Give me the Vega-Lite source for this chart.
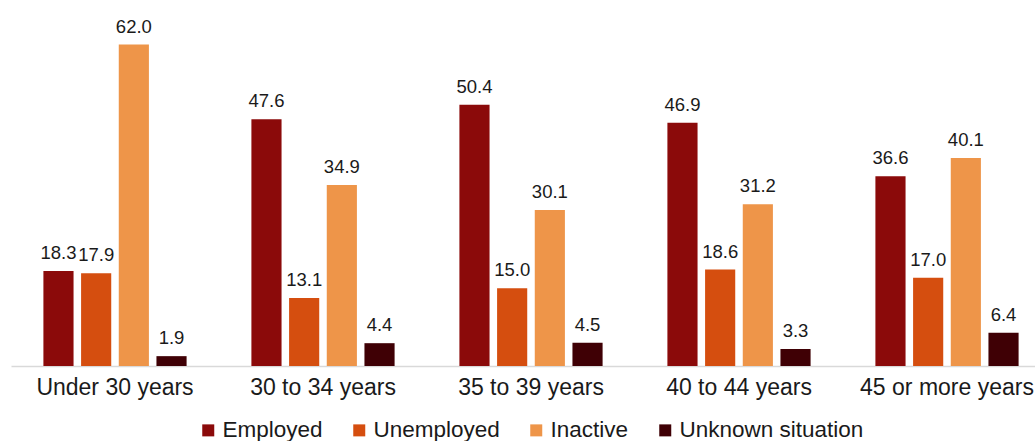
{
  "$schema": "https://vega.github.io/schema/vega-lite/v6.json",
  "width": 1040,
  "height": 337,
  "autosize": {"type": "none"},
  "padding": {"left": 11, "top": 29, "right": 0, "bottom": 75},
  "background": "white",
  "config": {"view": {"stroke": null}, "font": "Liberation Sans"},
  "data": {"values": [
    {"age": "Under 30 years", "status": "Employed", "value": 18.3},
    {"age": "Under 30 years", "status": "Unemployed", "value": 17.9},
    {"age": "Under 30 years", "status": "Inactive", "value": 62.0},
    {"age": "Under 30 years", "status": "Unknown situation", "value": 1.9},
    {"age": "30 to 34 years", "status": "Employed", "value": 47.6},
    {"age": "30 to 34 years", "status": "Unemployed", "value": 13.1},
    {"age": "30 to 34 years", "status": "Inactive", "value": 34.9},
    {"age": "30 to 34 years", "status": "Unknown situation", "value": 4.4},
    {"age": "35 to 39 years", "status": "Employed", "value": 50.4},
    {"age": "35 to 39 years", "status": "Unemployed", "value": 15.0},
    {"age": "35 to 39 years", "status": "Inactive", "value": 30.1},
    {"age": "35 to 39 years", "status": "Unknown situation", "value": 4.5},
    {"age": "40 to 44 years", "status": "Employed", "value": 46.9},
    {"age": "40 to 44 years", "status": "Unemployed", "value": 18.6},
    {"age": "40 to 44 years", "status": "Inactive", "value": 31.2},
    {"age": "40 to 44 years", "status": "Unknown situation", "value": 3.3},
    {"age": "45 or more years", "status": "Employed", "value": 36.6},
    {"age": "45 or more years", "status": "Unemployed", "value": 17.0},
    {"age": "45 or more years", "status": "Inactive", "value": 40.1},
    {"age": "45 or more years", "status": "Unknown situation", "value": 6.4}
  ]},
  "encoding": {
    "x": {
      "field": "age", "type": "nominal", "sort": null,
      "scale": {"paddingInner": 0, "paddingOuter": 0},
      "axis": {"title": null, "labelAngle": 0, "labelFontSize": 23, "labelColor": "#1a1a1a", "labelPadding": 10, "ticks": false, "domainColor": "#d9d9d9", "domainWidth": 1.5, "grid": false, "labelLimit": 0}
    },
    "xOffset": {
      "field": "status", "type": "nominal", "sort": ["Employed", "Unemployed", "Inactive", "Unknown situation"],
      "scale": {"paddingInner": 0.2, "paddingOuter": 0.86}
    },
    "y": {
      "field": "value", "type": "quantitative",
      "scale": {"domain": [0, 65]},
      "axis": null
    }
  },
  "layer": [
    {
      "mark": {"type": "bar"},
      "encoding": {
        "color": {
          "field": "status", "type": "nominal",
          "sort": ["Employed", "Unemployed", "Inactive", "Unknown situation"],
          "scale": {"domain": ["Employed", "Unemployed", "Inactive", "Unknown situation"], "range": ["#8b0a0a", "#d54e0f", "#ee9549", "#3f0005"]},
          "legend": {
            "title": null, "orient": "none", "direction": "horizontal",
            "legendX": 186, "legendY": 390,
            "symbolType": "square", "symbolSize": 144, "symbolStrokeWidth": 0,
            "labelFontSize": 22.5, "labelColor": "#1a1a1a", "labelOffset": 3, "labelLimit": 0,
            "columnPadding": 25
          }
        }
      }
    },
    {
      "mark": {"type": "text", "baseline": "alphabetic", "dy": -12, "fontSize": 18.5, "color": "#1a1a1a"},
      "encoding": {
        "text": {"field": "value", "type": "quantitative", "format": ".1f"}
      }
    }
  ]
}
